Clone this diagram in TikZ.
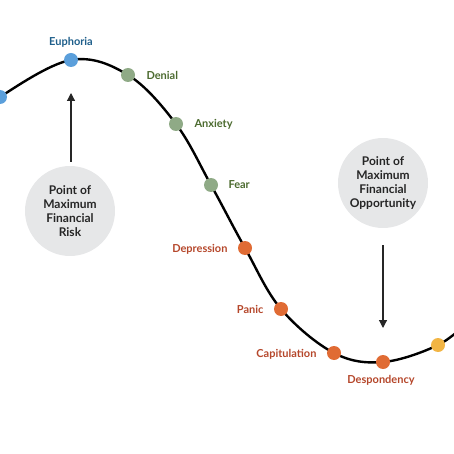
\documentclass[tikz,border=0pt]{standalone}
\usepackage{fontspec}
\setmainfont{Lato}
\usetikzlibrary{arrows.meta}
\definecolor{dblue}{HTML}{1F5F8B}
\definecolor{lblue}{HTML}{5B9FDB}
\definecolor{dgreen}{HTML}{4B6A2E}
\definecolor{lgreen}{HTML}{8FAA86}
\definecolor{dred}{HTML}{B5472B}
\definecolor{orng}{HTML}{E06B34}
\definecolor{yell}{HTML}{F2B544}
\definecolor{cgray}{HTML}{E6E7E8}
\begin{document}
\begin{tikzpicture}[x=1pt,y=-1pt,
  dot/.style={circle,inner sep=0pt,minimum size=14pt},
  lab/.style={font=\fontsize{11}{13}\selectfont\bfseries},
  bubble/.style={circle,fill=cgray,minimum size=90pt,inner sep=0pt,align=center,font=\fontsize{12}{14}\selectfont\bfseries,text=black!85},
  arr/.style={-{Triangle[length=8pt,width=8pt]},line width=1.2pt,draw=black!85}]
\useasboundingbox (0,0) rectangle (454,454);
\begin{scope}
\clip (0,0) rectangle (454,454);
\draw[line width=2.4pt] plot[smooth,tension=0.6] coordinates {(-20,118) (0,97) (71,60) (128,75) (176,124) (211,185) (245,248) (281,309) (334,353) (383,362) (438,345) (470,320)};
\node[dot,fill=lblue] (s) at (0,97) {};
\end{scope}
\node[dot,fill=lblue] (eu) at (71,60) {};
\node[dot,fill=lgreen] (de) at (128,75) {};
\node[dot,fill=lgreen] (an) at (176,124) {};
\node[dot,fill=lgreen] (fe) at (211,185) {};
\node[dot,fill=orng] (dp) at (245,248) {};
\node[dot,fill=orng] (pa) at (281,309) {};
\node[dot,fill=orng] (ca) at (334,353) {};
\node[dot,fill=orng] (ds) at (383,362) {};
\node[dot,fill=yell] (ye) at (438,345) {};
\node[lab,text=dblue] (leu) at (71,42) {Euphoria};
\node[lab,text=dgreen,anchor=west] (lde) at (143,75) {Denial};
\node[lab,text=dgreen,anchor=west] (lan) at (191,124) {Anxiety};
\node[lab,text=dgreen,anchor=west] (lfe) at (225,185) {Fear};
\node[lab,text=dred,anchor=east] (ldp) at (231,249) {Depression};
\node[lab,text=dred,anchor=east] (lpa) at (267,309) {Panic};
\node[lab,text=dred,anchor=east] (lca) at (320,354) {Capitulation};
\node[lab,text=dred] (lds) at (381,380) {Despondency};
\node[bubble] (risk) at (70,211) {Point of\\Maximum\\Financial\\Risk};
\node[bubble] (opp) at (383,183) {Point of\\Maximum\\Financial\\Opportunity};
\coordinate (rt) at (71,93);
\coordinate (ob) at (383,328);
\draw[arr] (71,162) -- (rt);
\draw[arr] (383,245) -- (ob);
\end{tikzpicture}
\end{document}
